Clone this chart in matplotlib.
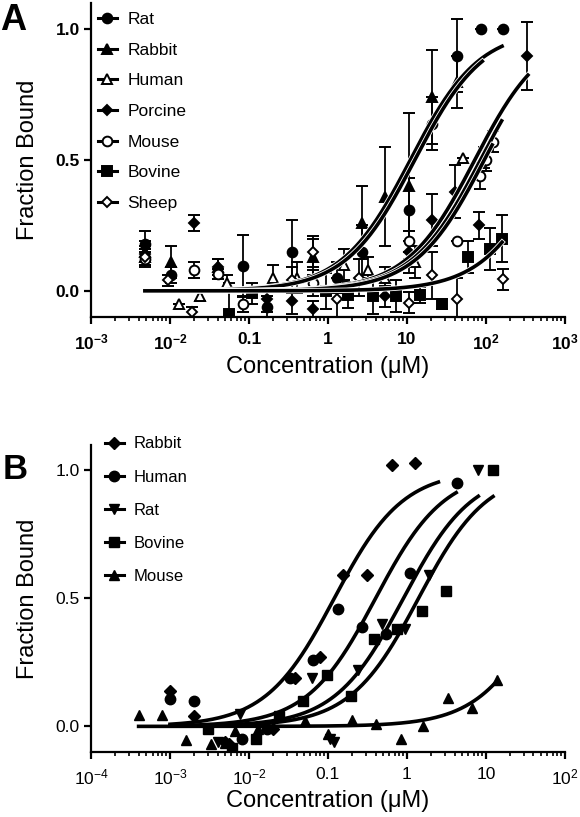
import numpy as np
import matplotlib
matplotlib.use('Agg')
import matplotlib.pyplot as plt
import matplotlib.patheffects as pe
from matplotlib.lines import Line2D

plt.rcParams['font.family'] = ['Liberation Sans', 'DejaVu Sans']
plt.rcParams['mathtext.fontset'] = 'custom'
plt.rcParams['mathtext.rm'] = 'Liberation Sans'
plt.rcParams['mathtext.bf'] = 'Liberation Sans:bold'
plt.rcParams['mathtext.default'] = 'regular'

# ---------------- panel A data (concentration uM, fraction bound, sem) ----------------
a_species = ['Rat', 'Rabbit', 'Human', 'Porcine', 'Mouse', 'Bovine', 'Sheep']

rat_x = [0.0048, 0.0103, 0.083, 0.17, 0.35, 1.3, 2.7, 10.5, 21, 43, 87, 165]
rat_y = [0.18, 0.06, 0.095, -0.06, 0.15, 0.05, 0.15, 0.31, 0.64, 0.90, 1.0, 1.0]
rat_e = [0.05, 0.03, 0.12, 0.04, 0.12, 0.06, 0.10, 0.12, 0.10, 0.14, 0, 0]

rabbit_x = [0.0048, 0.0103, 0.04, 0.65, 2.7, 5.3, 10.5, 21, 43]
rabbit_y = [0.15, 0.11, 0.09, 0.13, 0.26, 0.36, 0.40, 0.74, 0.80]
rabbit_e = [0.04, 0.06, 0.03, 0.07, 0.14, 0.19, 0.28, 0.18, 0.10]

human_x = [0.0048, 0.013, 0.024, 0.052, 0.2, 0.4, 1.6, 3.2, 5.3, 12.6, 51, 95]
human_y = [0.13, -0.05, -0.02, 0.03, 0.05, 0.05, 0.10, 0.08, 0.05, 0.11, 0.51, 0.51]
human_e = [0.03, 0, 0.02, 0.03, 0.05, 0.06, 0.06, 0.05, 0.04, 0.06, 0, 0.04]

porcine_x = [0.0048, 0.02, 0.04, 0.17, 0.35, 0.65, 5.3, 10.5, 21, 40, 81, 330]
porcine_y = [0.14, 0.26, 0.09, -0.03, -0.04, -0.07, -0.02, 0.15, 0.27, 0.38, 0.25, 0.90]
porcine_e = [0.03, 0.03, 0.03, 0.05, 0.05, 0.03, 0.04, 0.08, 0.10, 0.10, 0.05, 0.13]

mouse_x = [0.0048, 0.02, 0.04, 0.083, 0.65, 10.5, 43, 85, 100, 123]
mouse_y = [0.12, 0.08, 0.065, -0.05, 0.03, 0.19, 0.19, 0.44, 0.50, 0.57]
mouse_e = [0.03, 0.03, 0.02, 0.03, 0.05, 0.04, 0, 0.05, 0.04, 0.04]

bovine_x = [0.056, 0.11, 0.93, 1.8, 3.7, 7.2, 14.5, 28, 59, 112, 160]
bovine_y = [-0.09, -0.01, 0.0, -0.015, -0.02, -0.02, -0.015, -0.05, 0.13, 0.16, 0.20]
bovine_e = [0.12, 0.04, 0.07, 0.05, 0.07, 0.06, 0.03, 0.02, 0.06, 0.08, 0.09]

sheep_x = [0.0048, 0.0095, 0.019, 0.35, 0.65, 1.3, 2.5, 10.5, 21, 43, 165]
sheep_y = [0.13, 0.04, -0.08, 0.04, 0.15, -0.03, 0.05, -0.045, 0.06, -0.03, 0.045]
sheep_e = [0.03, 0.02, 0.02, 0.05, 0.06, 0.08, 0.07, 0.04, 0.09, 0.08, 0.04]

# one-site binding fits: Kd (uM), range of the drawn curve
a_fit_names = ['Rat', 'Rabbit', 'Porcine', 'Human', 'Mouse', 'Bovine']
a_fit_kd = [11, 12.5, 72, 85, 95, 700]
a_fit_end = [160, 90, 340, 158, 120, 160]
a_fit_start = 0.0048

# ---------------- panel B data ----------------
b_species = ['Rabbit', 'Human', 'Rat', 'Bovine', 'Mouse']

b_rabbit_x = [0.001, 0.002, 0.005, 0.0055, 0.02, 0.038, 0.079, 0.155, 0.31, 0.64, 1.27]
b_rabbit_y = [0.14, 0.04, -0.06, -0.07, -0.01, 0.19, 0.27, 0.59, 0.59, 1.02, 1.03]

b_human_x = [0.001, 0.002, 0.0082, 0.017, 0.033, 0.065, 0.134, 0.27, 0.55, 1.1, 4.3]
b_human_y = [0.105, 0.10, -0.05, -0.01, 0.19, 0.26, 0.46, 0.39, 0.36, 0.60, 0.95]

b_rat_x = [0.004, 0.0077, 0.063, 0.105, 0.12, 0.24, 0.48, 0.95, 1.9, 8.0]
b_rat_y = [-0.06, 0.05, 0.19, -0.05, -0.06, 0.22, 0.40, 0.38, 0.59, 1.0]

b_bovine_x = [0.003, 0.0061, 0.0123, 0.024, 0.048, 0.097, 0.195, 0.38, 0.75, 1.56, 3.1, 12.3]
b_bovine_y = [-0.01, -0.085, -0.05, 0.04, 0.10, 0.20, 0.12, 0.34, 0.38, 0.45, 0.53, 1.0]

b_mouse_x = [0.0004, 0.0008, 0.0016, 0.0033, 0.005, 0.0066, 0.013, 0.051, 0.1, 0.2,
             0.41, 0.85, 1.6, 3.3, 6.6, 13.8]
b_mouse_y = [0.045, 0.045, -0.055, -0.07, -0.065, -0.02, -0.01, 0.02, -0.03, 0.025,
             0.01, -0.05, 0.0, 0.11, 0.07, 0.18]

b_fit_kd = [0.12, 0.4, 0.9, 1.4, 64]
b_fit_start = [0.001, 0.001, 0.001, 0.001, 0.0004]
b_fit_end = [2.5, 4.2, 8.0, 12.3, 13.8]


def binding(x, kd):
    return x / (kd + x)


def style_axes(ax, xlo, xhi, xlabels, bold):
    ax.set_xscale('log')
    ax.set_xlim(xlo, xhi)
    ax.set_ylim(-0.1, 1.1)
    for s in ['top', 'right']:
        ax.spines[s].set_visible(False)
    for s in ['left', 'bottom']:
        ax.spines[s].set_linewidth(1.6)
    ticks = [10.0 ** k for k in range(int(np.log10(xlo)), int(np.log10(xhi)) + 1)]
    ax.set_xticks(ticks)
    ax.set_xticks([d * t for t in ticks[:-1] for d in range(2, 10)], minor=True)
    w = 'bold' if bold else 'normal'
    ax.set_xticklabels(xlabels, fontsize=12.5, fontweight=w)
    ax.set_yticks([0, 0.5, 1.0])
    ax.set_yticklabels(['0.0', '0.5', '1.0'], fontsize=12.5, fontweight=w)
    ax.tick_params(which='major', length=5, width=1.6, direction='out')
    ax.tick_params(axis='x', which='major', pad=6)
    ax.tick_params(axis='y', which='major', pad=3)
    ax.tick_params(which='minor', length=3, width=1.2, direction='out')
    ax.text(-0.133, 0.5, 'Fraction Bound', transform=ax.transAxes, rotation=90,
            ha='center', va='center', fontsize=17)
    ax.text(0.5, -0.16, 'Concentration (\u03bcM)', transform=ax.transAxes,
            ha='center', va='center', fontsize=17)


fig = plt.figure(figsize=(5.8, 8.17), dpi=100)
axA = fig.add_axes([0.157, 0.612, 0.817, 0.384])
axB = fig.add_axes([0.157, 0.0796, 0.817, 0.376])

# ---------------- panel A ----------------
a_data = {
    'Rat': (rat_x, rat_y, rat_e, 'o', 'black'),
    'Rabbit': (rabbit_x, rabbit_y, rabbit_e, '^', 'black'),
    'Human': (human_x, human_y, human_e, '^', 'white'),
    'Porcine': (porcine_x, porcine_y, porcine_e, 'D', 'black'),
    'Mouse': (mouse_x, mouse_y, mouse_e, 'o', 'white'),
    'Bovine': (bovine_x, bovine_y, bovine_e, 's', 'black'),
    'Sheep': (sheep_x, sheep_y, sheep_e, 'D', 'white'),
}
handles = []
for name in a_species:
    x, y, e, m, fc = a_data[name]
    ms = 5.5 if m == 'D' else 7
    axA.errorbar(x, y, yerr=e, fmt=m, ms=ms, mfc=fc, mec='black', mew=1.4,
                 ecolor='black', elinewidth=1.3, capsize=4, capthick=1.3, zorder=3)
    handles.append(Line2D([], [], color='black', lw=2.2, marker=m, ms=ms,
                          mfc=fc, mec='black', mew=1.4))

for name, kd, end in zip(a_fit_names, a_fit_kd, a_fit_end):
    xx = np.logspace(np.log10(a_fit_start), np.log10(end), 300)
    axA.plot(xx, binding(xx, kd), color='black', lw=2.6, zorder=4,
             path_effects=[pe.Stroke(linewidth=3.8, foreground='white'), pe.Normal()])

style_axes(axA, 1e-3, 1e3,
           ['$10^{-3}$', '$10^{-2}$', '0.1', '1', '10', '$10^{2}$', '$10^{3}$'], True)
axA.legend(handles, a_species, loc='upper left', bbox_to_anchor=(-0.008, 1.005),
           frameon=False, fontsize=12.5, handlelength=1.1, handletextpad=0.6,
           labelspacing=0.89, borderaxespad=0.2)

# ---------------- panel B ----------------
b_data = {
    'Rabbit': (b_rabbit_x, b_rabbit_y, 'D'),
    'Human': (b_human_x, b_human_y, 'o'),
    'Rat': (b_rat_x, b_rat_y, 'v'),
    'Bovine': (b_bovine_x, b_bovine_y, 's'),
    'Mouse': (b_mouse_x, b_mouse_y, '^'),
}
handles = []
for name in b_species:
    x, y, m = b_data[name]
    ms = 6 if m == 'D' else 7.5
    axB.plot(x, y, m, ms=ms, color='black', zorder=3)
    handles.append(Line2D([], [], color='black', lw=2.2, marker=m, ms=ms))

for kd, start, end in zip(b_fit_kd, b_fit_start, b_fit_end):
    xx = np.logspace(np.log10(start), np.log10(end), 300)
    axB.plot(xx, binding(xx, kd), color='black', lw=2.6, zorder=4)

style_axes(axB, 1e-4, 1e2,
           ['$10^{-4}$', '$10^{-3}$', '$10^{-2}$', '0.1', '1', '10', '$10^{2}$'], False)
axB.legend(handles, b_species, loc='upper left', bbox_to_anchor=(0.009, 1.06),
           frameon=False, fontsize=12, handlelength=1.1, handletextpad=0.6,
           labelspacing=1.09, borderaxespad=0.2)

fig.text(13 / 580, 1 - 20 / 817, 'A', fontsize=26, fontweight='bold', ha='center', va='center')
fig.text(15 / 580, 1 - 470 / 817, 'B', fontsize=25, fontweight='bold', ha='center', va='center')

fig.savefig('out.png', dpi=100)
